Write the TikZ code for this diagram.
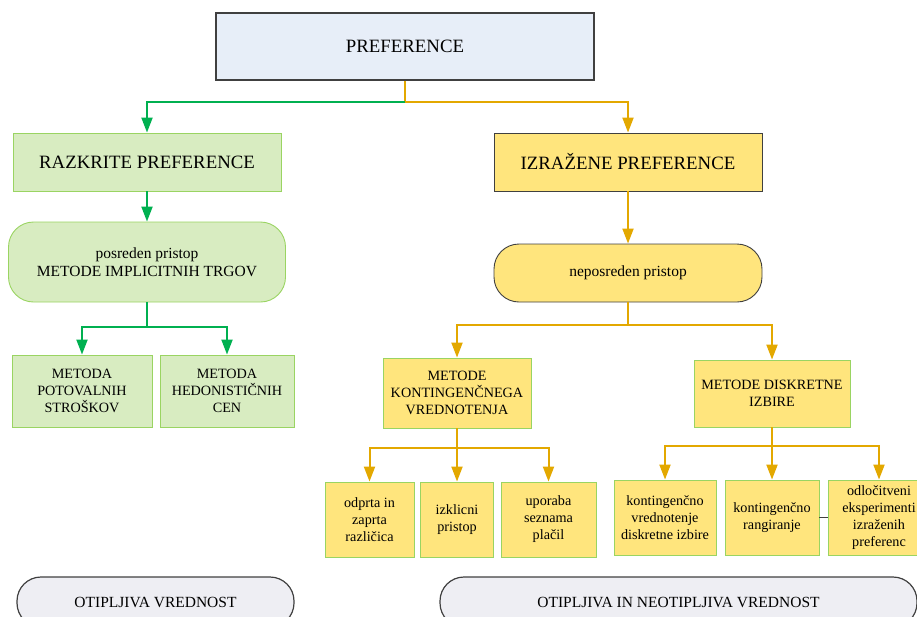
\documentclass[tikz,border=0pt]{standalone}
\usepackage{fontspec}
\setmainfont{Liberation Serif}
\usetikzlibrary{arrows.meta}
\definecolor{gfill}{HTML}{D8ECC1}
\definecolor{gline}{HTML}{9AD462}
\definecolor{yfill}{HTML}{FFE57D}
\definecolor{bfill}{HTML}{E7EEF8}
\definecolor{lfill}{HTML}{EEEEF3}
\definecolor{garr}{HTML}{00B050}
\definecolor{yarr}{HTML}{E3A800}
\definecolor{dline}{HTML}{404040}
\newcommand\szA{\fontsize{18.8pt}{22pt}\selectfont}
\newcommand\szB{\fontsize{15.5pt}{18pt}\selectfont}
\newcommand\szC{\fontsize{14.2pt}{17pt}\selectfont}
\begin{document}
\begin{tikzpicture}[x=1pt,y=-1pt,
  box/.style={line width=0.9pt, inner sep=1pt, align=center, anchor=center},
  gbox/.style={box, fill=gfill, draw=gline},
  ybox/.style={box, fill=yfill, draw=gline},
  ydark/.style={box, fill=yfill, draw=dline},
  big/.style={font=\szA},
  mid/.style={font=\szB},
  small/.style={font=\szC},
  garrow/.style={draw=garr, line width=2pt, -{Triangle[length=15pt,width=11pt]}},
  yarrow/.style={draw=yarr, line width=2pt, -{Triangle[length=15pt,width=11pt]}},
  yline/.style={draw=yarr, line width=2pt},
  gline2/.style={draw=garr, line width=2pt}]
\useasboundingbox (0,0) rectangle (917,616);

% top
\node[box, big, fill=bfill, draw=dline, line width=1.2pt, minimum width=378pt, minimum height=67pt] (pref) at (405,46.5) {PREFERENCE};

% left branch
\node[gbox, big, minimum width=268pt, minimum height=58pt] (razk) at (147,162) {RAZKRITE PREFERENCE};
\node[gbox, mid, rounded corners=25pt, minimum width=277pt, minimum height=80pt] (posr) at (147,262) {posreden pristop\\ METODE IMPLICITNIH TRGOV};
\node[gbox, small, minimum width=140pt, minimum height=72pt] (pot) at (82,391) {METODA\\ POTOVALNIH\\ STROŠKOV};
\node[gbox, small, minimum width=134pt, minimum height=72pt] (hed) at (227,391) {METODA\\ HEDONISTIČNIH\\ CEN};

% right branch
\node[ydark, big, minimum width=268pt, minimum height=58pt] (izr) at (628,162) {IZRAŽENE PREFERENCE};
\node[ydark, mid, rounded corners=25pt, minimum width=268pt, minimum height=58pt] (nepo) at (628,273) {neposreden pristop};
\node[ybox, small, minimum width=148pt, minimum height=70pt] (kont) at (457,393) {METODE\\ KONTINGENČNEGA\\ VREDNOTENJA};
\node[ybox, small, minimum width=156pt, minimum height=67pt] (disk) at (772,393.5) {METODE DISKRETNE\\ IZBIRE};

\node[ybox, small, minimum width=89pt, minimum height=75pt] (odp) at (369.5,519.5) {odprta in\\ zaprta\\ različica};
\node[ybox, small, minimum width=73pt, minimum height=75pt] (izk) at (457,519.5) {izklicni\\ pristop};
\node[ybox, small, minimum width=95pt, minimum height=75pt] (upo) at (548.5,519.5) {uporaba\\ seznama\\ plačil};

\node[ybox, small, minimum width=102pt, minimum height=75pt] (kvd) at (665,517.5) {kontingenčno\\ vrednotenje\\ diskretne izbire};
\node[ybox, small, minimum width=94pt, minimum height=75pt] (kr) at (772,517.5) {kontingenčno\\ rangiranje};
\node[ybox, small, minimum width=102pt, minimum height=75pt] (odl) at (879,517.5) {odločitveni\\ eksperimenti\\ izraženih\\ preferenc};

% bottom
\node[box, mid, fill=lfill, draw=dline, line width=1.2pt, rounded corners=24pt, minimum width=277pt, minimum height=50pt] (ot) at (155.5,602) {OTIPLJIVA VREDNOST};
\node[box, mid, fill=lfill, draw=dline, line width=1.2pt, rounded corners=24pt, minimum width=477pt, minimum height=50pt] (otn) at (678.5,602) {OTIPLJIVA IN NEOTIPLJIVA VREDNOST};

% connectors
\coordinate (j1) at (405,102);
\draw[yline] (pref.south) -- (j1);
\draw[garrow] (j1) -| (razk.north);
\draw[yarrow] (j1) -| (izr.north);

\draw[garrow] (razk.south) -- (posr.north);
\coordinate (j2) at (147,327);
\draw[gline2] (posr.south) -- (j2);
\draw[garrow] (j2) -| (pot.north);
\draw[garrow] (j2) -| (hed.north);

\draw[yarrow] (izr.south) -- (nepo.north);
\coordinate (j3) at (628,325);
\draw[yline] (nepo.south) -- (j3);
\draw[yarrow] (j3) -| (kont.north);
\draw[yarrow] (j3) -| (disk.north);

\coordinate (j4) at (457,448);
\draw[yline] (kont.south) -- (j4);
\draw[yarrow] (j4) -| (odp.north);
\draw[yarrow] (j4) -- (izk.north);
\draw[yarrow] (j4) -| (upo.north);

\coordinate (j5) at (772,446);
\draw[yline] (disk.south) -- (j5);
\draw[yarrow] (j5) -| (kvd.north);
\draw[yarrow] (j5) -- (kr.north);
\draw[yarrow] (j5) -| (odl.north);

\draw[draw=dline, line width=0.8pt] (kr.east) -- (odl.west);
\end{tikzpicture}
\end{document}
